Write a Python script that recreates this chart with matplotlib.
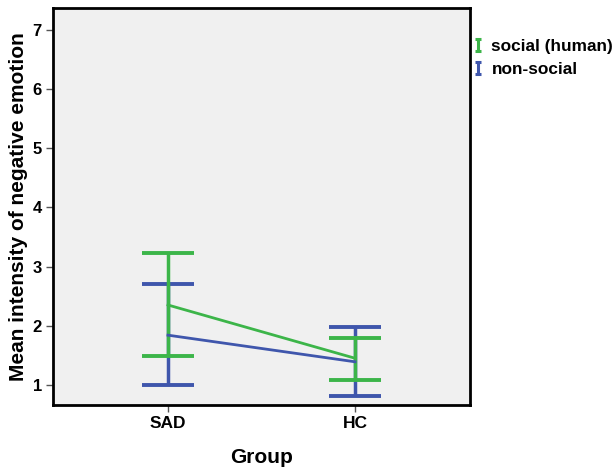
import numpy as np
import matplotlib
matplotlib.use("Agg")
import matplotlib.pyplot as plt
from matplotlib.lines import Line2D
from matplotlib.path import Path

plt.rcParams['font.family'] = ['Liberation Sans', 'DejaVu Sans']

groups = ['SAD', 'HC']
series = ['social (human)', 'non-social']
means = {'social (human)': [2.35, 1.45], 'non-social': [1.84, 1.39]}
lower = {'social (human)': [1.49, 1.09], 'non-social': [1.00, 0.82]}
upper = {'social (human)': [3.23, 1.79], 'non-social': [2.70, 1.98]}
colors = {'social (human)': '#3cb549', 'non-social': '#3f56ac'}

fig = plt.figure(figsize=(6.16, 4.72), dpi=100)
ax = fig.add_axes([0.086, 0.142, 0.677, 0.841])
ax.set_facecolor('#f0f0f0')

x = np.arange(len(groups))
# draw non-social first so social sits on top
for name in ['non-social', 'social (human)']:
    m = np.array(means[name])
    lo = m - np.array(lower[name])
    hi = np.array(upper[name]) - m
    ax.errorbar(x, m, yerr=[lo, hi], color=colors[name], lw=2, elinewidth=2.5,
                capsize=19, capthick=2.8)

ax.set_xlim(-0.615, 1.615)
ax.set_ylim(0.66, 7.37)
ax.set_xticks(x)
ax.set_xticklabels(groups, fontweight='bold', fontsize=12.5)
ax.set_yticks(range(1, 8))
ax.set_yticklabels([str(v) for v in range(1, 8)], fontweight='bold', fontsize=12)
ax.tick_params(axis='both', direction='out', length=5, width=1, color='#555555', pad=3)
for s in ax.spines.values():
    s.set_linewidth(2)
    s.set_color('black')

ax.set_xlabel('Group', fontweight='bold', fontsize=15, labelpad=12)
ax.set_ylabel('Mean intensity of negative emotion', fontweight='bold', fontsize=15, labelpad=3)

# I-beam legend symbol, like an error bar
ibeam = Path([(-0.55, 1), (0.55, 1), (0, 1), (0, -1), (-0.55, -1), (0.55, -1)],
             [Path.MOVETO, Path.LINETO, Path.MOVETO, Path.LINETO, Path.MOVETO, Path.LINETO])
handles = [Line2D([], [], marker=ibeam, linestyle='none', color=colors[n],
                  markersize=8, markeredgewidth=2.2, fillstyle='none') for n in series]
leg = fig.legend(handles, series, loc='upper left', bbox_to_anchor=(0.767, 0.918),
                 frameon=False, handletextpad=0.5, labelspacing=0.45,
                 borderpad=0, borderaxespad=0,
                 prop={'weight': 'bold', 'size': 12.4}, handlelength=0.6)

plt.savefig('out.png', dpi=100)
